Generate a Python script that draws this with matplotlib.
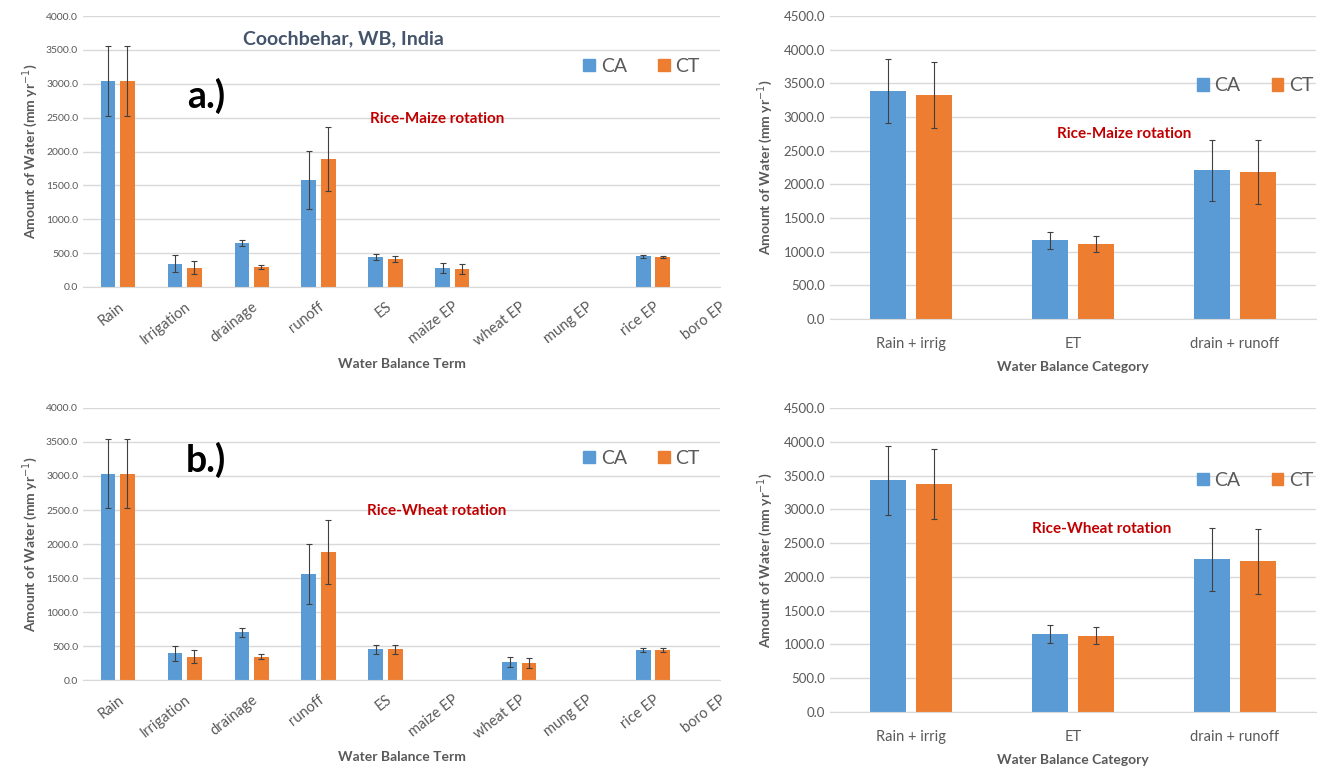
import matplotlib.pyplot as plt
import numpy as np
from matplotlib.patches import Patch

plt.rcParams['font.family'] = ['Lato', 'DejaVu Sans']

# ---- water balance terms (left panels) ----
terms = ['Rain', 'Irrigation', 'drainage', 'runoff', 'ES',
         'maize EP', 'wheat EP', 'mung EP', 'rice EP', 'boro EP']

# Rice-Maize rotation
rm_ca = [3040, 345, 650, 1575, 443, 285, 0, 0, 453, 0]
rm_ca_err = [510, 120, 40, 430, 50, 75, 0, 0, 20, 0]
rm_ct = [3040, 286, 296, 1888, 418, 271, 0, 0, 443, 0]
rm_ct_err = [510, 95, 25, 475, 45, 75, 0, 0, 17, 0]

# Rice-Wheat rotation
rw_ca = [3035, 393, 702, 1560, 451, 0, 265, 0, 442, 0]
rw_ca_err = [510, 110, 68, 437, 62, 0, 70, 0, 33, 0]
rw_ct = [3035, 344, 344, 1885, 451, 0, 246, 0, 442, 0]
rw_ct_err = [510, 90, 40, 470, 62, 0, 72, 0, 25, 0]

# ---- water balance categories (right panels) ----
categories = ['Rain + irrig', 'ET', 'drain + runoff']

rm_cat_ca = [3385, 1166, 2207]
rm_cat_ca_err = [470, 130, 455]
rm_cat_ct = [3320, 1116, 2185]
rm_cat_ct_err = [490, 120, 480]

rw_cat_ca = [3428, 1152, 2262]
rw_cat_ca_err = [505, 130, 465]
rw_cat_ct = [3375, 1128, 2228]
rw_cat_ct_err = [515, 123, 485]

CA_COLOR = '#5B9BD5'
CT_COLOR = '#ED7D31'
GRID = '#D9D9D9'
TXT = '#595959'
RED = '#C00000'

W, H = 1325, 771
fig = plt.figure(figsize=(W / 100, H / 100), dpi=100)


def px_axes(x0, y0, x1, y1):
    """axes from pixel box (top-left origin)"""
    return fig.add_axes([x0 / W, 1 - y1 / H, (x1 - x0) / W, (y1 - y0) / H])


def style(ax, ymax, tick_fs):
    ax.set_ylim(0, ymax)
    ax.set_yticks(np.arange(0, ymax + 1, 500))
    ax.set_yticklabels([f'{v:.1f}' for v in np.arange(0, ymax + 1, 500)],
                       fontsize=tick_fs, color=TXT)
    ax.grid(axis='y', color=GRID, linewidth=1)
    ax.set_axisbelow(True)
    for s in ['top', 'right', 'left']:
        ax.spines[s].set_visible(False)
    ax.spines['bottom'].set_color(GRID)
    ax.tick_params(length=0)


def bars(ax, x, ca, ca_err, ct, ct_err, off, width):
    ekw = dict(fmt='none', ecolor='#404040', elinewidth=0.8, capsize=2.5, capthick=0.8)
    for vals, errs, xs, col, lab in [(ca, ca_err, x - off, CA_COLOR, 'CA'),
                                     (ct, ct_err, x + off, CT_COLOR, 'CT')]:
        vals = np.asarray(vals, float)
        errs = np.asarray(errs, float)
        ax.bar(xs, vals, width, color=col, label=lab)
        # no whiskers on empty terms
        m = vals > 0
        ax.errorbar(xs[m], vals[m], yerr=errs[m], **ekw)


def legend(ax, x, y, fs):
    handles = [Patch(color=CA_COLOR, label='CA'), Patch(color=CT_COLOR, label='CT')]
    ax.legend(handles=handles, loc='center', bbox_to_anchor=(x, y), ncol=2,
              frameon=False, fontsize=fs, handlelength=0.6, handleheight=0.6,
              handletextpad=0.3, columnspacing=1.6, labelcolor=TXT)


def term_panel(box, ca, ca_err, ct, ct_err, tag, tag_y, rot_label, leg_y):
    ax = px_axes(*box)
    x = np.arange(len(terms))
    bars(ax, x, ca, ca_err, ct, ct_err, 0.145, 0.22)
    style(ax, 4000, 7.5)
    ax.set_xlim(-0.52, 9.0)
    ax.set_xticks(x)
    ax.set_xticklabels(terms, rotation=38, ha='right', rotation_mode='anchor',
                       fontsize=10.5, color=TXT)
    ax.tick_params(axis='x', pad=9)
    ax.set_xlabel('Water Balance Term', fontsize=10, fontweight='bold',
                  color=TXT, labelpad=7)
    ax.set_ylabel('Amount of Water (mm yr$^{-1}$)', fontsize=10,
                  fontweight='bold', color=TXT, labelpad=4)
    ax.text(0.193, tag_y, tag, transform=ax.transAxes, fontsize=27,
            fontweight='bold', color='black', ha='center', va='center')
    ax.text(0.556, 0.62, rot_label, transform=ax.transAxes, fontsize=11,
            fontweight='bold', color=RED, ha='center', va='center')
    legend(ax, 0.877, leg_y, 14)
    return ax


def category_panel(box, ca, ca_err, ct, ct_err, rot_label, rot_x, rot_y, leg_y):
    ax = px_axes(*box)
    x = np.arange(len(categories))
    bars(ax, x, ca, ca_err, ct, ct_err, 0.143, 0.225)
    style(ax, 4500, 9.5)
    ax.set_xlim(-0.5, 2.5)
    ax.set_xticks(x)
    ax.set_xticklabels(categories, fontsize=10.5, color=TXT)
    ax.tick_params(axis='x', pad=13)
    ax.set_xlabel('Water Balance Category', fontsize=10, fontweight='bold',
                  color=TXT, labelpad=7)
    ax.set_ylabel('Amount of Water (mm yr$^{-1}$)', fontsize=10,
                  fontweight='bold', color=TXT, labelpad=6)
    ax.text(rot_x, rot_y, rot_label, transform=ax.transAxes, fontsize=11,
            fontweight='bold', color=RED, ha='center', va='center')
    legend(ax, 0.875, leg_y, 14)
    return ax


ax_a = term_panel((83, 16, 720, 287), rm_ca, rm_ca_err, rm_ct, rm_ct_err,
                  'a.)', 0.705, 'Rice-Maize rotation', 0.815)
ax_a.text(0.409, 0.915, 'Coochbehar, WB, India', transform=ax_a.transAxes,
          fontsize=14, fontweight='bold', color='#44546A', ha='center', va='center')

term_panel((83, 408, 720, 680), rw_ca, rw_ca_err, rw_ct, rw_ct_err,
           'b.)', 0.81, 'Rice-Wheat rotation', 0.816)

category_panel((830, 16, 1316, 319), rm_cat_ca, rm_cat_ca_err, rm_cat_ct,
               rm_cat_ct_err, 'Rice-Maize rotation', 0.605, 0.61, 0.769)
category_panel((830, 408, 1316, 712), rw_cat_ca, rw_cat_ca_err, rw_cat_ct,
               rw_cat_ct_err, 'Rice-Wheat rotation', 0.559, 0.602, 0.763)

plt.savefig('out.png', dpi=100)
plt.close()
